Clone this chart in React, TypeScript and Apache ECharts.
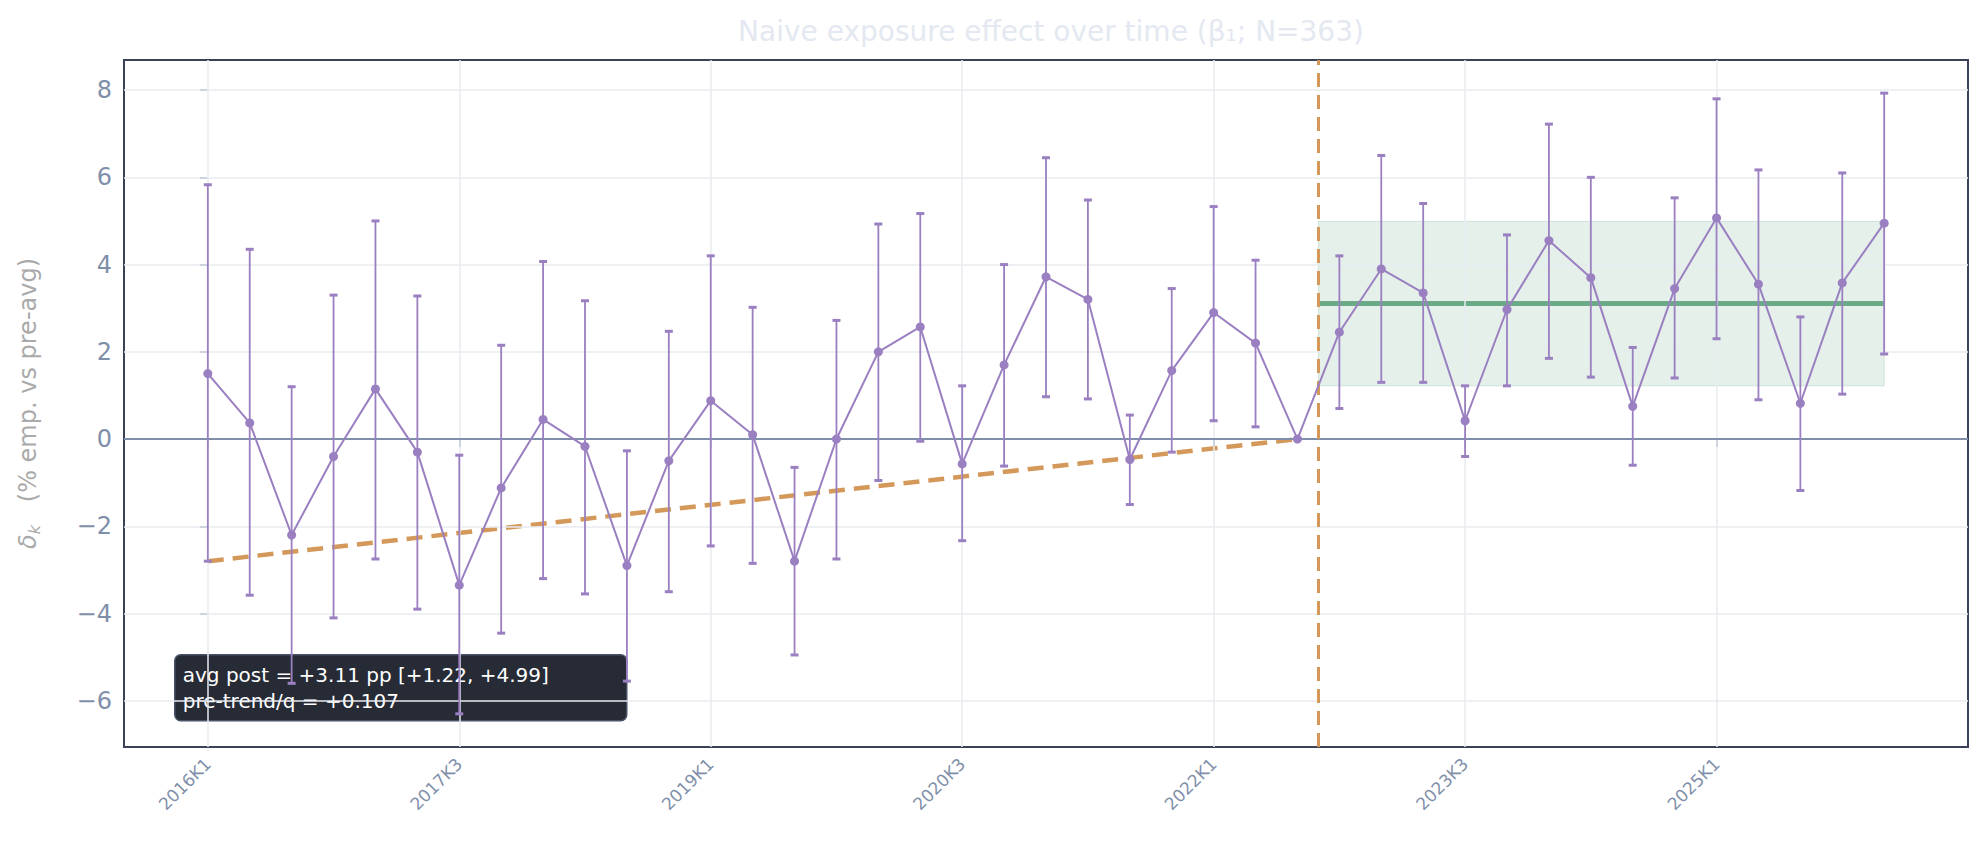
import { useEffect, useRef } from 'react';
import * as echarts from 'echarts';

// quarter index 0 = 2016K1
const estimates = [
  1.5, 0.37, -2.2, -0.4, 1.15, -0.3, -3.35, -1.12, 0.45, -0.17, -2.9, -0.5, 0.88, 0.1,
  -2.8, 0.0, 2.0, 2.57, -0.57, 1.7, 3.72, 3.2, -0.47, 1.57, 2.9, 2.2, 0.0,
  2.45, 3.9, 3.35, 0.42, 2.97, 4.55, 3.7, 0.75, 3.45, 5.07, 3.55, 0.82, 3.58, 4.95,
];
const upper = [
  5.83, 4.35, 1.2, 3.3, 5.0, 3.28, -0.37, 2.15, 4.07, 3.17, -0.27, 2.47, 4.2, 3.02,
  -0.65, 2.72, 4.93, 5.17, 1.22, 4.0, 6.45, 5.48, 0.55, 3.45, 5.33, 4.1, 0.0,
  4.2, 6.5, 5.4, 1.22, 4.68, 7.22, 6.0, 2.1, 5.53, 7.8, 6.17, 2.8, 6.1, 7.93,
];
const lower = [
  -2.8, -3.58, -5.6, -4.1, -2.75, -3.9, -6.3, -4.45, -3.2, -3.55, -5.55, -3.5, -2.45, -2.85,
  -4.95, -2.75, -0.95, -0.05, -2.33, -0.62, 0.97, 0.92, -1.5, -0.3, 0.42, 0.28, 0.0,
  0.7, 1.3, 1.3, -0.4, 1.22, 1.85, 1.42, -0.6, 1.4, 2.3, 0.9, -1.18, 1.03, 1.95,
];
const xTickValues = [0, 6, 12, 18, 24, 30, 36];
const xTickLabels = ['2016K1', '2017K3', '2019K1', '2020K3', '2022K1', '2023K3', '2025K1'];
const yTickValues = [-6, -4, -2, 0, 2, 4, 6, 8];
const preTrend = [[0, -2.8], [26, 0]];
const eventX = 26.5;
const postEnd = 40;
const avgPost = 3.11;
const ciPost = [1.22, 4.99];

const tickColor = '#7f8fa9';
const gridColor = '#e8ebf1';
const purple = '#9a7fc1';

export default function App() {
  const ref = useRef<HTMLDivElement | null>(null);

  useEffect(() => {
    document.body.style.margin = '0';
    if (!ref.current) return;
    const chart = echarts.init(ref.current, undefined, { renderer: 'svg' });

    const option: any = {
      animation: false,
      title: {
        text: 'Naive exposure effect over time (β₁; N=363)',
        left: 1046,
        top: 12,
        textAlign: 'center',
        textStyle: { color: '#e4e8f1', fontSize: 28, fontWeight: 'normal', fontFamily: 'DejaVu Sans' },
      },
      grid: {
        left: 124, right: 20, top: 60, bottom: 110,
        show: true, borderColor: '#3a4258', borderWidth: 2, backgroundColor: '#fff',
      },
      xAxis: {
        type: 'value', min: -2, max: 42,
        axisLine: { show: false },
        splitLine: { show: false },
        axisTick: { show: true, customValues: xTickValues, length: 8, lineStyle: { color: tickColor, width: 2 } },
        axisLabel: {
          customValues: xTickValues,
          rotate: 45, color: tickColor, fontSize: 17, fontFamily: 'DejaVu Sans', margin: 14,
          formatter: (v: number) => xTickLabels[xTickValues.indexOf(v)] ?? '',
        },
      },
      yAxis: {
        type: 'value', min: -7.06, max: 8.69,
        axisLine: { show: false },
        splitLine: { show: false },
        axisTick: { show: true, customValues: yTickValues, length: 8, lineStyle: { color: tickColor, width: 2 } },
        axisLabel: {
          customValues: yTickValues, color: tickColor, fontSize: 24, fontFamily: 'DejaVu Sans', margin: 12,
          formatter: (v: number) => (v < 0 ? `−${-v}` : `${v}`),
        },
        name: '{i|δ}{s|k}   (% emp. vs pre-avg)',
        nameLocation: 'middle', nameGap: 82, nameRotate: 90,
        nameTextStyle: {
          color: '#aaaaaa', fontSize: 24, fontFamily: 'DejaVu Sans',
          rich: {
            i: { fontSize: 24, fontStyle: 'italic', color: '#aaaaaa', fontFamily: 'DejaVu Sans' },
            s: { fontSize: 16, fontStyle: 'italic', color: '#aaaaaa', fontFamily: 'DejaVu Sans', verticalAlign: 'bottom', padding: [12, 0, 0, 0] },
          },
        },
      },
      series: [
        {
          // grid lines, zero line, event line and post band
          type: 'line', data: [], silent: true,
          markLine: {
            symbol: 'none', silent: true, label: { show: false },
            data: [
              ...xTickValues.map((v) => ({ xAxis: v, lineStyle: { color: gridColor, width: 1.5, type: 'solid' } })),
              ...yTickValues.map((v) => ({ yAxis: v, lineStyle: { color: gridColor, width: 1.5, type: 'solid' } })),
              { yAxis: 0, lineStyle: { color: '#7f8fa9', width: 2, type: 'solid' } },
              { xAxis: eventX, lineStyle: { color: '#d4995a', width: 3, type: [14, 8] } },
            ],
          },
          markArea: {
            silent: true,
            itemStyle: { color: 'rgba(106,170,134,0.18)', borderColor: 'rgba(106,170,134,0.25)', borderWidth: 1 },
            data: [[{ coord: [eventX, ciPost[0]] }, { coord: [postEnd, ciPost[1]] }]],
          },
        },
        {
          type: 'line', data: [[eventX, avgPost], [postEnd, avgPost]], symbol: 'none',
          lineStyle: { color: '#6aaa86', width: 5 }, z: 3,
        },
        {
          type: 'line', data: preTrend, symbol: 'none',
          lineStyle: { color: '#d4995a', width: 4.5, type: [16, 9] }, z: 4,
        },
        {
          type: 'custom', z: 5,
          data: estimates.map((_, i) => [i, lower[i], upper[i]]),
          renderItem: (params: any, api: any) => {
            const x = api.value(0);
            if (api.value(1) === api.value(2)) return { type: 'group', children: [] };
            const lo = api.coord([x, api.value(1)]);
            const hi = api.coord([x, api.value(2)]);
            const style = { stroke: purple, lineWidth: 1.8 };
            const w = 4;
            return {
              type: 'group',
              children: [
                { type: 'line', shape: { x1: lo[0], y1: lo[1], x2: hi[0], y2: hi[1] }, style },
                { type: 'line', shape: { x1: lo[0] - w, y1: lo[1], x2: lo[0] + w, y2: lo[1] }, style: { ...style, lineWidth: 3 } },
                { type: 'line', shape: { x1: hi[0] - w, y1: hi[1], x2: hi[0] + w, y2: hi[1] }, style: { ...style, lineWidth: 3 } },
              ],
            };
          },
        },
        {
          type: 'line', z: 6,
          data: estimates.map((v, i) => [i, v]),
          symbol: 'circle', symbolSize: 9,
          itemStyle: { color: purple },
          lineStyle: { color: purple, width: 2 },
        },
      ],
      graphic: [
        {
          type: 'group', left: 174, top: 654, z: 100,
          children: [
            { type: 'rect', shape: { x: 0, y: 0, width: 452, height: 66, r: 6 }, style: { fill: '#262b36', stroke: '#4a5268', lineWidth: 1.5 } },
            {
              type: 'text', x: 8, y: 7,
              style: {
                text: 'avg post = +3.11 pp [+1.22, +4.99]\npre-trend/q = +0.107',
                fill: '#ffffff', fontSize: 20, lineHeight: 26, fontFamily: 'DejaVu Sans',
              },
            },
          ],
        },
      ],
    };

    chart.setOption(option);
    return () => chart.dispose();
  }, []);

  return <div ref={ref} style={{ width: 1988, height: 857 }} />;
}
